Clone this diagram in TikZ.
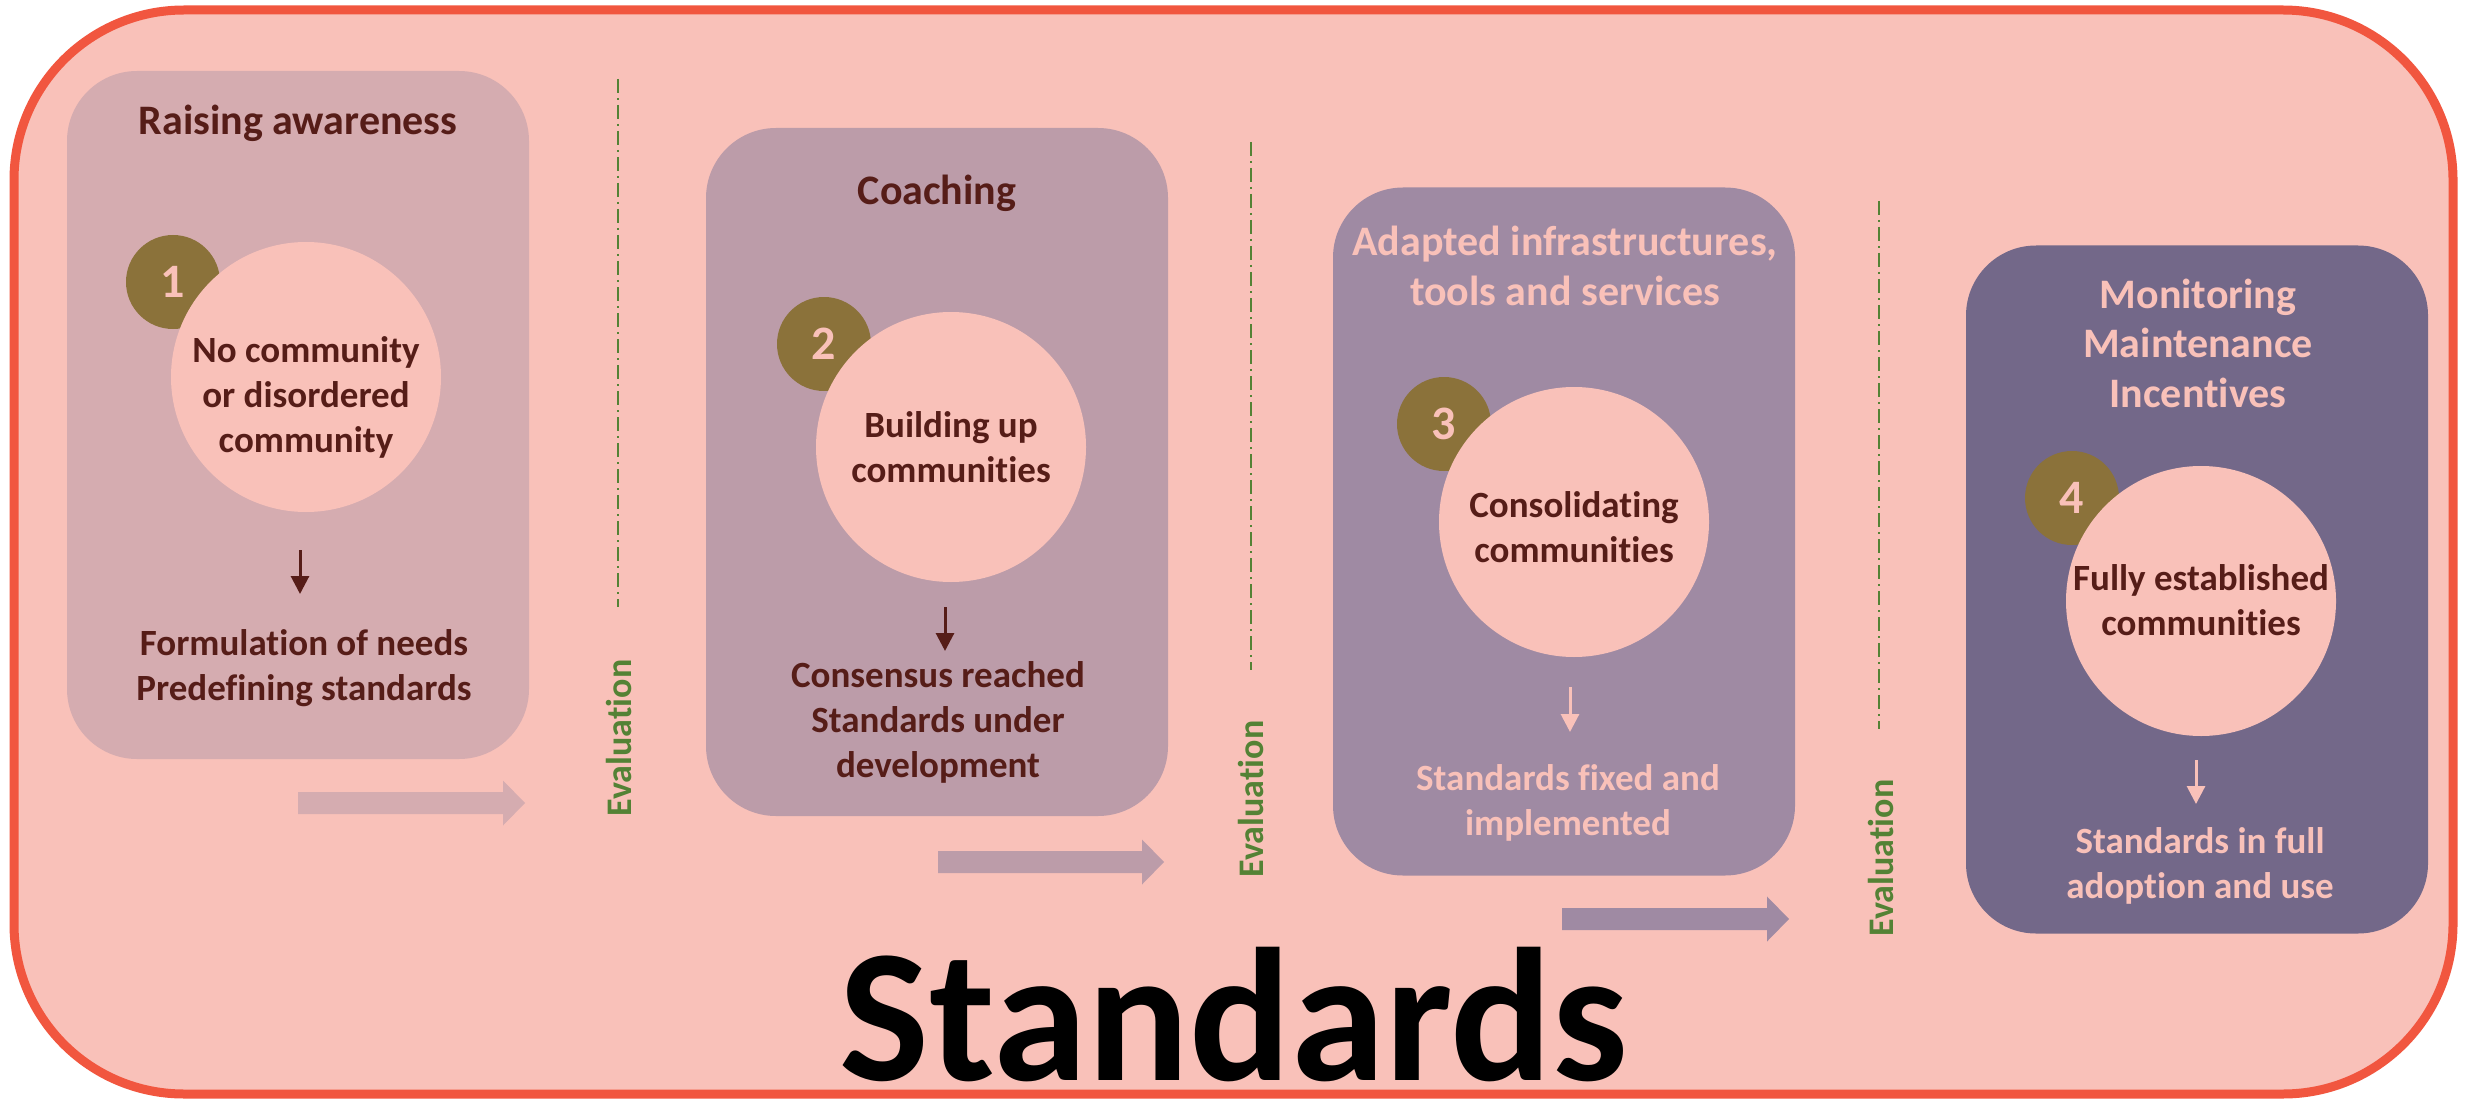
\documentclass[tikz,border=0pt]{standalone}
\usepackage{fontspec}
\setmainfont{Carlito}[RawFeature={-liga;-clig;-dlig;-calt}]
\usetikzlibrary{arrows.meta}
\definecolor{outerfill}{HTML}{F9C1B9}
\definecolor{outerline}{HTML}{F1563F}
\definecolor{boxA}{HTML}{D5ACB0}
\definecolor{boxB}{HTML}{BC9CA9}
\definecolor{boxC}{HTML}{9F8AA3}
\definecolor{boxD}{HTML}{736889}
\definecolor{numfill}{HTML}{8B723A}
\definecolor{darktext}{HTML}{561D18}
\definecolor{lighttext}{HTML}{F9C1B9}
\definecolor{evalgreen}{HTML}{548235}
\newcommand{\mlines}[1]{\begin{tabular}[t]{@{}c@{}}#1\end{tabular}}
\newcommand{\blockarrow}[4]{%
  \fill[#4] (#1,#3-11) -- (#2-22,#3-11) -- (#2-22,#3-22.5) -- (#2,#3)
    -- (#2-22,#3+22.5) -- (#2-22,#3+11) -- (#1,#3+11) -- cycle;}
\begin{document}
\begin{tikzpicture}[x=1pt,y=-1pt,
  stagebox/.style={rounded corners=70pt, minimum width=462pt, minimum height=688pt, inner sep=0pt, draw=none},
  bigcirc/.style={circle, fill=outerfill, minimum size=270pt, inner sep=0pt},
  numcirc/.style={circle, fill=numfill, minimum size=94pt, inner sep=0pt, text=lighttext, font=\fontsize{48}{56}\selectfont\bfseries},
  title/.style={font=\fontsize{42}{50}\selectfont\bfseries, anchor=base, inner sep=0pt},
  body/.style={font=\fontsize{37}{45}\selectfont\bfseries, anchor=base, inner sep=0pt},
  evaltext/.style={font=\fontsize{36}{43}\selectfont\bfseries, text=evalgreen, rotate=90, inner sep=0pt},
  evalline/.style={draw=evalgreen, line width=1.5pt, dash pattern=on 14pt off 5pt on 2pt off 5pt},
  downarr/.style={line width=3pt, -{Triangle[width=18pt,length=18pt]}}
]
\useasboundingbox (0,0) rectangle (2475,1099);
% outer frame
\draw[line width=9pt, draw=outerline, fill=outerfill, rounded corners=170pt] (14,10) rectangle (2453,1094);

% stage boxes
\node[stagebox, fill=boxA] (b1) at (298,415) {};
\node[stagebox, fill=boxB] (b2) at (937,472) {};
\node[stagebox, fill=boxC] (b3) at (1564,531.5) {};
\node[stagebox, fill=boxD] (b4) at (2197,589.5) {};

% titles
\node[title, text=darktext] (h1) at (298,135) {Raising awareness};
\node[title, text=darktext] (h2) at (937,205) {Coaching};
\node[title, text=lighttext] (h3) at (1565,256) {\mlines{Adapted infrastructures,\\tools and services}};
\node[title, text=lighttext] (h4) at (2198,308) {\mlines{Monitoring\\Maintenance\\Incentives}};

% number circles
\node[numcirc] (n1) at (173,282) {1};
\node[numcirc] (n2) at (824,344) {2};
\node[numcirc] (n3) at (1444,424) {3};
\node[numcirc] (n4) at (2072,498) {4};

% big circles
\node[bigcirc] (c1) at (306,377) {};
\node[bigcirc] (c2) at (951,447) {};
\node[bigcirc] (c3) at (1574,522) {};
\node[bigcirc] (c4) at (2201,601) {};

% circle texts
\node[body, text=darktext] (t1) at (306,362) {\mlines{No community\\or disordered\\community}};
\node[body, text=darktext] (t2) at (951,437) {\mlines{Building up\\communities}};
\node[body, text=darktext] (t3) at (1574,517) {\mlines{Consolidating\\communities}};
\node[body, text=darktext] (t4) at (2201,590) {\mlines{Fully established\\communities}};

% down arrows
\coordinate (d1s) at (300,550); \coordinate (d1e) at (300,594);
\coordinate (d2s) at (945,607); \coordinate (d2e) at (945,651);
\coordinate (d3s) at (1570,687); \coordinate (d3e) at (1570,732);
\coordinate (d4s) at (2196,760); \coordinate (d4e) at (2196,804);
\draw[downarr, draw=darktext, fill=darktext] (d1s) -- (d1e);
\draw[downarr, draw=darktext, fill=darktext] (d2s) -- (d2e);
\draw[downarr, draw=lighttext, fill=lighttext] (d3s) -- (d3e);
\draw[downarr, draw=lighttext, fill=lighttext] (d4s) -- (d4e);

% outcome texts
\node[body, text=darktext] (o1) at (304,655) {\mlines{Formulation of needs\\Predefining standards}};
\node[body, text=darktext] (o2) at (938,687) {\mlines{Consensus reached\\Standards under\\development}};
\node[body, text=lighttext] (o3) at (1568,790) {\mlines{Standards fixed and\\implemented}};
\node[body, text=lighttext] (o4) at (2200,853) {\mlines{Standards in full\\adoption and use}};

% evaluation separators
\coordinate (l1t) at (618,79);  \coordinate (l1b) at (618,607);
\coordinate (l2t) at (1251,142); \coordinate (l2b) at (1251,670);
\coordinate (l3t) at (1879,201); \coordinate (l3b) at (1879,729);
\draw[evalline] (l1t) -- (l1b);
\draw[evalline] (l2t) -- (l2b);
\draw[evalline] (l3t) -- (l3b);
\node[evaltext] (e1) at (619,738) {Evaluation};
\node[evaltext] (e2) at (1251,799) {Evaluation};
\node[evaltext] (e3) at (1881,858) {Evaluation};

% progress arrows
\blockarrow{298}{525}{803}{boxA}
\blockarrow{938}{1164}{862}{boxB}
\blockarrow{1562}{1789}{919}{boxC}

% big label
\node[anchor=base, inner sep=0pt, text depth=0pt, font=\fontsize{190}{228}\selectfont\bfseries, text=black] (std) at (1234,1080) {Standards};
\end{tikzpicture}
\end{document}
